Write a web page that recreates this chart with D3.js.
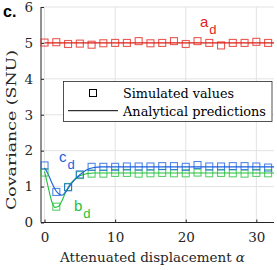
<!DOCTYPE html>
<html>
<head>
  <meta charset="utf-8">
  <script src="https://cdn.jsdelivr.net/npm/d3@7"></script>
  <style>
    body { margin: 0; background: #fff; }
    .serif { font-family: 'DejaVu Serif', serif; }
  </style>
</head>
<body>
<svg id="chart" width="277" height="270"></svg>
<script>
  // simulated values, x = 0, 5/3, 10/3, ...
  const simX = d3.range(20).map(i => i * 5 / 3);
  const simA = [5.01, 5.02, 4.97, 4.98, 4.95, 4.99, 5.0, 5.0, 5.05, 4.99, 5.0, 5.05, 4.97, 5.05, 5.0, 4.93, 5.0, 5.0, 5.03, 5.0];
  const simC = [1.59, 0.85, 0.98, 1.34, 1.55, 1.55, 1.55, 1.56, 1.56, 1.56, 1.57, 1.57, 1.55, 1.60, 1.56, 1.56, 1.57, 1.57, 1.56, 1.53];
  const simB = [1.39, 0.44, 0.99, 1.32, 1.36, 1.36, 1.38, 1.38, 1.36, 1.37, 1.38, 1.37, 1.37, 1.39, 1.37, 1.38, 1.37, 1.36, 1.38, 1.37];

  // analytical predictions
  const anaX = [0, 0.5, 1, 1.5, 2, 2.5, 3, 3.5, 4, 5, 6, 7, 8, 10, 32.5];
  const anaA = [5, 5, 5, 5, 5, 5, 5, 5, 5, 5, 5, 5, 5, 5, 5];
  const anaC = [1.52, 1.35, 1.12, 0.92, 0.80, 0.76, 0.85, 1.0, 1.13, 1.33, 1.47, 1.53, 1.55, 1.55, 1.55];
  const anaB = [1.42, 1.0, 0.6, 0.42, 0.45, 0.62, 0.85, 1.03, 1.15, 1.30, 1.36, 1.38, 1.38, 1.38, 1.38];

  const xTicks = [0, 10, 20, 30];
  const yTicks = [0, 1, 2, 3, 4, 5, 6];

  const colA = '#e2231a', colB = '#22c03a', colC = '#1a5fe0';

  const svg = d3.select('#chart');
  const x = d3.scaleLinear().domain([-0.5, 32.5]).range([41, 274]);
  const y = d3.scaleLinear().domain([0, 6]).range([222.5, 7]);

  // grid
  svg.append('g').selectAll('line').data(xTicks).join('line')
    .attr('x1', d => x(d)).attr('x2', d => x(d)).attr('y1', y(0)).attr('y2', y(6))
    .attr('stroke', '#e3e3e3').attr('stroke-width', 1);
  svg.append('g').selectAll('line').data(yTicks).join('line')
    .attr('x1', x(-0.5)).attr('x2', x(32.5)).attr('y1', d => y(d)).attr('y2', d => y(d))
    .attr('stroke', '#e3e3e3').attr('stroke-width', 1);

  // axes
  const xAxis = svg.append('g').attr('transform', `translate(0,${y(0)})`)
    .call(d3.axisBottom(x).tickValues(xTicks).tickFormat(d3.format('d')).tickSize(-3).tickPadding(10));
  const yAxis = svg.append('g').attr('transform', `translate(${x(-0.5)},0)`)
    .call(d3.axisLeft(y).tickValues(yTicks).tickFormat(d3.format('d')).tickSize(-3).tickPadding(8));
  [xAxis, yAxis].forEach(g => {
    g.attr('font-family', null).attr('font-size', null).attr('class', 'serif');
    g.select('.domain').attr('stroke', '#262626');
    g.selectAll('.tick line').attr('stroke', '#262626');
    g.selectAll('.tick text').attr('font-size', 13.5).attr('fill', '#262626');
  });
  xAxis.select('.domain').attr('d', `M${x(-0.5)},0H${x(32.5)}`);
  yAxis.select('.domain').attr('d', `M0,${y(0)}V${y(6)}`);

  // lines
  const line = d3.line().x(d => x(d[0])).y(d => y(d[1])).curve(d3.curveMonotoneX);
  [[anaA, colA], [anaB, colB], [anaC, colC]].forEach(([vals, c]) => {
    svg.append('path').datum(anaX.map((v, i) => [v, vals[i]]))
      .attr('d', line).attr('fill', 'none').attr('stroke', c).attr('stroke-width', 1.1);
  });

  // markers
  const ms = 7;
  [[simA, colA], [simB, colB], [simC, colC]].forEach(([vals, c]) => {
    svg.append('g').selectAll('rect').data(simX.map((v, i) => [v, vals[i]])).join('rect')
      .attr('x', d => x(d[0]) - ms / 2).attr('y', d => y(d[1]) - ms / 2)
      .attr('width', ms).attr('height', ms)
      .attr('fill', 'none').attr('stroke', c).attr('stroke-opacity', 0.75).attr('stroke-width', 1.1);
  });

  // legend
  const lg = svg.append('g');
  lg.append('rect').attr('x', 63.5).attr('y', 81.5).attr('width', 208.5).attr('height', 40)
    .attr('fill', '#fff').attr('stroke', '#262626').attr('stroke-width', 0.8);
  lg.append('rect').attr('x', 89.5).attr('y', 89.5).attr('width', 7).attr('height', 7)
    .attr('fill', 'none').attr('stroke', '#000').attr('stroke-width', 1);
  lg.append('line').attr('x1', 68).attr('x2', 118).attr('y1', 110.7).attr('y2', 110.7)
    .attr('stroke', '#000').attr('stroke-width', 1);
  lg.append('text').attr('class', 'serif').attr('x', 123).attr('y', 98).attr('font-size', 13)
    .attr('textLength', 111).attr('lengthAdjust', 'spacingAndGlyphs').text('Simulated values');
  lg.append('text').attr('class', 'serif').attr('x', 123).attr('y', 115.5).attr('font-size', 13)
    .attr('textLength', 143).attr('lengthAdjust', 'spacingAndGlyphs').text('Analytical predictions');

  // axis labels
  svg.append('text').attr('class', 'serif').attr('x', 60).attr('y', 262)
    .attr('font-size', 13.5).attr('fill', '#262626')
    .attr('textLength', 185).attr('lengthAdjust', 'spacingAndGlyphs')
    .text('Attenuated displacement ').append('tspan').attr('font-style', 'italic').text('α');
  svg.append('text').attr('class', 'serif').attr('transform', 'translate(15.5,130) rotate(-90)')
    .attr('text-anchor', 'middle').attr('font-size', 13.5).attr('fill', '#262626')
    .attr('textLength', 160).attr('lengthAdjust', 'spacingAndGlyphs')
    .text('Covariance (SNU)');

  // annotations
  const ann = [['a', 'd', 200, 27, colA], ['c', 'd', 59, 162, colC], ['b', 'd', 74, 210.5, colB]];
  ann.forEach(([m, s, ax, ay, c]) => {
    const t = svg.append('text').attr('x', ax).attr('y', ay).attr('fill', c)
      .attr('font-family', 'Liberation Sans, Arial, sans-serif').attr('font-size', 15);
    t.append('tspan').text(m);
    t.append('tspan').attr('dy', 7).attr('dx', 1).attr('font-size', 13).text(s);
  });

  svg.append('text').attr('x', 3).attr('y', 17).text('c.')
    .attr('font-family', 'Liberation Sans, Arial, sans-serif').attr('font-weight', 'bold').attr('font-size', 16);
</script>
</body>
</html>
